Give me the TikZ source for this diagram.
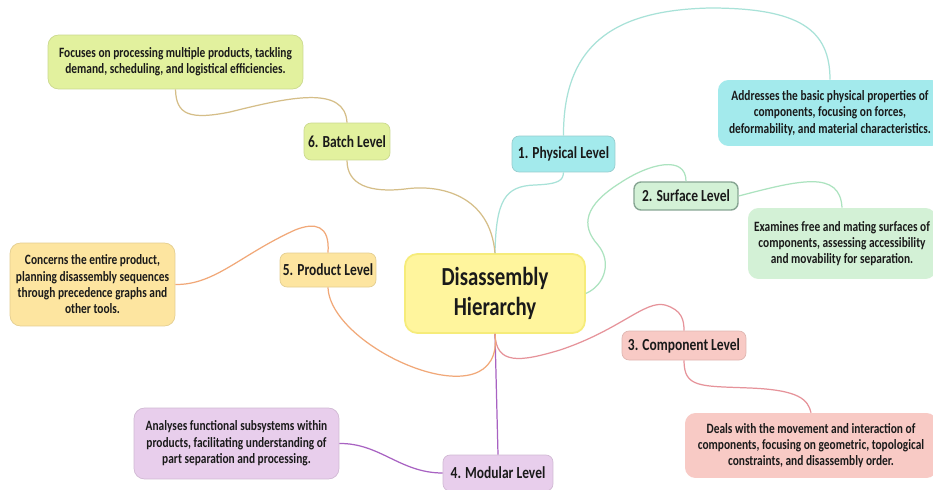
\documentclass[tikz,border=0pt]{standalone}
\usepackage{fontspec}
\setmainfont{Carlito}[FakeStretch=0.8]
\usetikzlibrary{positioning}
\definecolor{inktext}{HTML}{1A1A1A}
\definecolor{titlefill}{HTML}{FFF59D}
\definecolor{titledraw}{HTML}{F6EC7A}
\definecolor{batchfill}{HTML}{E2F19E}
\definecolor{batchline}{HTML}{D5BE88}
\definecolor{physfill}{HTML}{A3EAEC}
\definecolor{physline}{HTML}{A8E2D8}
\definecolor{surffill}{HTML}{D3F1D6}
\definecolor{surfdraw}{HTML}{87A593}
\definecolor{surfline}{HTML}{ACE3BF}
\definecolor{prodfill}{HTML}{FDE5A0}
\definecolor{prodline}{HTML}{F1A878}
\definecolor{compfill}{HTML}{F8CAC5}
\definecolor{compline}{HTML}{E6939A}
\definecolor{modfill}{HTML}{E8CEEC}
\definecolor{modline}{HTML}{A862C2}
\tikzset{
  levelbox/.style={rounded corners=4pt, inner sep=0pt, text=inktext,
    font=\bfseries\fontsize{9.6}{11}\selectfont},
  notebox/.style={rounded corners=6pt, inner sep=0pt, align=center, text=inktext,
    font=\bfseries\fontsize{8.1}{9.3}\selectfont},
  link/.style={line width=0.7pt}
}
\begin{document}
\begin{tikzpicture}[x=0.02cm,y=-0.02cm]
  \clip (0,0) rectangle (933,490);
  \fill[white] (0,0) rectangle (933,490);

  \node[rounded corners=7pt, fill=titlefill, draw=titledraw, line width=1pt, text=inktext,
        align=center, minimum width=3.6cm, minimum height=1.58cm,
        font=\bfseries\fontsize{14.8}{17.5}\selectfont] (title) at (495,293.5) {Disassembly\\Hierarchy};

  \node[levelbox, fill=physfill, draw=physfill!85!black!90, minimum width=2.06cm, minimum height=0.72cm] (phys) at (563.5,154) {1. Physical Level};
  \node[levelbox, fill=surffill, draw=surfdraw, line width=0.8pt, minimum width=2.08cm, minimum height=0.56cm] (surf) at (686,196) {2. Surface Level};
  \node[levelbox, fill=compfill, draw=compfill!90!black, minimum width=2.48cm, minimum height=0.58cm] (comp) at (684,345.5) {3. Component Level};
  \node[levelbox, fill=modfill, draw=modfill!90!black, minimum width=2.2cm, minimum height=0.72cm] (mod) at (498,473) {4. Modular Level};
  \node[levelbox, fill=prodfill, draw=prodfill!90!black, minimum width=1.92cm, minimum height=0.68cm] (prod) at (328,270) {5. Product Level};
  \node[levelbox, fill=batchfill, draw=batchfill!90!black, minimum width=1.72cm, minimum height=0.74cm] (batch) at (347,141.5) {6. Batch Level};

  \node[notebox, fill=physfill, minimum width=4.48cm, minimum height=1.32cm] (physnote) at (830,113)
    {Addresses the basic physical properties of\\components, focusing on forces,\\deformability, and material characteristics.};
  \node[notebox, fill=surffill, minimum width=3.76cm, minimum height=1.42cm] (surfnote) at (842,243.5)
    {Examines free and mating surfaces of\\components, assessing accessibility\\and movability for separation.};
  \node[notebox, fill=compfill, minimum width=5.04cm, minimum height=1.3cm] (compnote) at (811,445.5)
    {Deals with the movement and interaction of\\components, focusing on geometric, topological\\constraints, and disassembly order.};
  \node[notebox, fill=modfill, draw=modfill!90!black, minimum width=4.1cm, minimum height=1.42cm] (modnote) at (236.5,443.5)
    {Analyses functional subsystems within\\products, facilitating understanding of\\part separation and processing.};
  \node[notebox, fill=prodfill, draw=prodfill!90!black, minimum width=3.3cm, minimum height=1.66cm] (prodnote) at (92.5,284.5)
    {Concerns the entire product,\\planning disassembly sequences\\through precedence graphs and\\other tools.};
  \node[notebox, fill=batchfill, draw=batchfill!90!black, minimum width=5.1cm, minimum height=1.08cm] (batchnote) at (175.5,62)
    {Focuses on processing multiple products, tackling\\demand, scheduling, and logistical efficiencies.};

  \draw[link, physline] (title.north) .. controls (496,200) and (505,186) .. (535,185)
        .. controls (560,184) and (563,180) .. (phys.south);
  \draw[link, physline] (phys.north) .. controls (563,40) and (620,10) .. (710,8)
        .. controls (800,8) and (830,30) .. (physnote.north);
  \draw[link, surfline] (title.east) .. controls (605,285) and (612,262) .. (598,245)
        .. controls (580,225) and (585,205) .. (620,183)
        .. controls (650,163) and (686,155) .. (surf.north);
  \draw[link, surfline] (surf.east) .. controls (800,180) and (840,170) .. (surfnote.north);
  \draw[link, compline] (title.south) .. controls (496,365) and (520,362) .. (560,350)
        .. controls (620,330) and (645,300) .. (665,305)
        .. controls (682,310) and (684,320) .. (comp.north);
  \draw[link, compline] (comp.south) .. controls (684,388) and (700,386) .. (750,388)
        .. controls (800,390) and (808,400) .. (compnote.north);
  \draw[link, modline] (title.south) -- (mod.north);
  \draw[link, modline] (mod.west) .. controls (400,473) and (380,443) .. (modnote.east);
  \draw[link, prodline] (title.south) .. controls (505,425) and (330,350) .. (prod.south);
  \draw[link, prodline] (prod.north) .. controls (330,225) and (315,222) .. (295,230)
        .. controls (240,255) and (215,285) .. (prodnote.east);
  \draw[link, batchline] (title.north) .. controls (490,195) and (440,184) .. (405,189)
        .. controls (370,193) and (347,185) .. (batch.south);
  \draw[link, batchline] (batchnote.south) .. controls (176,115) and (190,120) .. (230,112)
        .. controls (290,97) and (345,85) .. (batch.north);
\end{tikzpicture}
\end{document}
